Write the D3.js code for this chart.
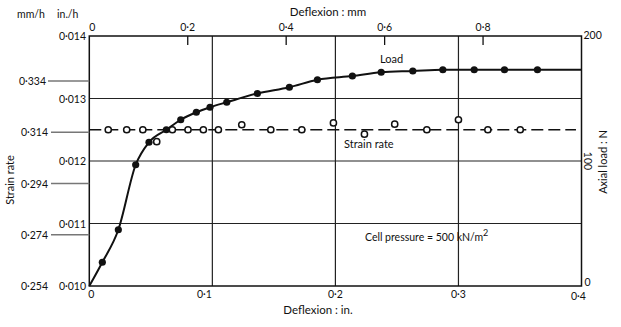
<!DOCTYPE html>
<html><head><meta charset="utf-8">
<script src="https://cdn.jsdelivr.net/npm/d3@7"></script>
<style>
body{margin:0;background:#fff;}
svg text{font-family:Lato,"Open Sans",sans-serif;fill:#111;}
</style></head>
<body><svg id="c" width="621" height="327"></svg>
<script>
// ---- data ----
const loadX = [0.0106,0.0236,0.0377,0.0485,0.0626,0.0743,0.0870,0.0981,0.1117,0.1366,0.1626,0.1854,0.2138,0.2372,0.2629,0.2873,0.3128,0.3374,0.3642];
const loadN = [19,45,97,115,125,133,139,143,147,154,159,165,168,171,172,173,173,173,173];
const curveStart = [0, 0];
const curveEnd = [0.4, 173];
const strainX = [0.0154,0.0304,0.0435,0.0548,0.0675,0.0802,0.0927,0.1049,0.1239,0.1475,0.1727,0.1984,0.2236,0.2482,0.2743,0.3000,0.3239,0.3502];
const strainR = [0.0125,0.0125,0.0125,0.01231,0.0125,0.0125,0.0125,0.0125,0.01258,0.0125,0.0125,0.01261,0.01243,0.01259,0.0125,0.01266,0.0125,0.0125];
const strainMean = 0.0125;
const strainMeanEnd = 0.3955;
const xTicksIn = [0,0.1,0.2,0.3,0.4];
const xTicksMm = [0.2,0.4,0.6,0.8];
const yTicksIn = [0.010,0.011,0.012,0.013,0.014];
const yTicksMm = [0.254,0.274,0.294,0.314,0.334];
const loadTicks = [0,100,200];

// ---- scales ----
const L=89.3, R=581.5, T=36, B=286;
const x = d3.scaleLinear([0,0.4],[L,R]);
const xmm = d3.scaleLinear([0,1.0],[L,R]);
const yIn = d3.scaleLinear([0.010,0.014],[B,T]);
const yMm = d3.scaleLinear([0.254,0.334],[B,81]);
const yLoad = d3.scaleLinear([0,200],[B,T]);
const dot = s => s.replace('.', '·');
const fIn = d => dot(d3.format('.3f')(d));
const fX = d => d===0 ? '0' : dot(d3.format('.1f')(d));

const svg = d3.select('#c');
const fs = 10.5;

// grid lines
svg.append('g').selectAll('line').data(yTicksIn.slice(1,4)).join('line')
  .attr('x1',L).attr('x2',R).attr('y1',d=>yIn(d)).attr('y2',d=>yIn(d))
  .attr('stroke','#222').attr('stroke-width',1.1);
svg.append('g').selectAll('line').data(xTicksIn.slice(1,4)).join('line')
  .attr('x1',d=>x(d)).attr('x2',d=>x(d)).attr('y1',T).attr('y2',B)
  .attr('stroke','#222').attr('stroke-width',1.2);

// frame
svg.append('rect').attr('x',L).attr('y',T).attr('width',R-L).attr('height',B-T)
  .attr('fill','none').attr('stroke','#111').attr('stroke-width',1.5);

// top mm ticks (inward)
svg.append('g').selectAll('line').data(xTicksMm).join('line')
  .attr('x1',d=>xmm(d)).attr('x2',d=>xmm(d)).attr('y1',T).attr('y2',T+9)
  .attr('stroke','#111').attr('stroke-width',1.3);
svg.append('g').selectAll('text').data([0].concat(xTicksMm)).join('text')
  .attr('x',d=>d===0?xmm(d)+3:xmm(d)).attr('y',31).attr('text-anchor','middle')
  .attr('font-size',fs).text(fX);
svg.append('text').attr('x',328).attr('y',16).attr('text-anchor','middle')
  .attr('font-size',11.5).text('Deflexion : mm');

// bottom x labels
svg.append('g').selectAll('text').data(xTicksIn).join('text')
  .attr('x',d=>d===0?x(d)+2:(d===0.1?x(d)-8:(d===0.4?x(d)-3:x(d))))
  .attr('y',d=>d===0.4?300:298).attr('text-anchor','middle')
  .attr('font-size',fs).text(fX);
svg.append('text').attr('x',318).attr('y',314).attr('text-anchor','middle')
  .attr('font-size',11.5).text('Deflexion : in.');

// left in./h labels
svg.append('g').selectAll('text').data(yTicksIn).join('text')
  .attr('x',86).attr('y',d=>yIn(d)+4).attr('text-anchor','end')
  .attr('font-size',fs).text(fIn);
// left mm/h labels with leader lines
svg.append('g').selectAll('line').data(yTicksMm.slice(1)).join('line')
  .attr('x1',d=>d===0.334?48:51).attr('x2',L).attr('y1',d=>yMm(d)).attr('y2',d=>yMm(d))
  .attr('stroke','#777').attr('stroke-width',1.5);
svg.append('g').selectAll('text').data(yTicksMm).join('text')
  .attr('x',d=>d===0.334?46:48).attr('y',d=>yMm(d)+4).attr('text-anchor','end')
  .attr('font-size',fs).text(fIn);
svg.append('text').attr('x',17).attr('y',18).attr('font-size',fs).text('mm/h');
svg.append('text').attr('x',57).attr('y',18).attr('font-size',fs).text('in./h');
svg.append('text').attr('transform','translate(14,180) rotate(-90)')
  .attr('text-anchor','middle').attr('font-size',11).text('Strain rate');

// right load axis labels
svg.append('text').attr('x',R+2).attr('y',yLoad(200)+3).attr('font-size',fs).text('200');
svg.append('text').attr('transform',`translate(${R+2},${yLoad(100)}) rotate(90)`)
  .attr('text-anchor','middle').attr('font-size',fs).text('100');
svg.append('text').attr('x',R+3).attr('y',yLoad(0)).attr('font-size',fs).text('0');
svg.append('text').attr('transform','translate(607,162) rotate(-90)')
  .attr('text-anchor','middle').attr('font-size',11).text('Axial load : N');

// strain rate mean dashed line
svg.append('line').attr('x1',x(0)).attr('x2',x(strainMeanEnd))
  .attr('y1',yIn(strainMean)).attr('y2',yIn(strainMean))
  .attr('stroke','#111').attr('stroke-width',1.6).attr('stroke-dasharray','12,5');

// load curve
const loadPts = [curveStart].concat(loadX.map((v,i)=>[v,loadN[i]])).concat([curveEnd]);
svg.append('path').datum(loadPts)
  .attr('d',d3.line().x(d=>x(d[0])).y(d=>yLoad(d[1])).curve(d3.curveMonotoneX))
  .attr('fill','none').attr('stroke','#111').attr('stroke-width',2);
svg.append('g').selectAll('circle').data(loadX).join('circle')
  .attr('cx',d=>x(d)).attr('cy',(d,i)=>yLoad(loadN[i])).attr('r',3.6).attr('fill','#111');

// strain points
svg.append('g').selectAll('circle').data(strainX).join('circle')
  .attr('cx',d=>x(d)).attr('cy',(d,i)=>yIn(strainR[i])).attr('r',3.1)
  .attr('fill','#fff').attr('stroke','#111').attr('stroke-width',1.5);

// annotations
svg.append('text').attr('x',380).attr('y',63).attr('font-size',11).text('Load');
svg.append('text').attr('x',344).attr('y',148).attr('font-size',11).text('Strain rate');
const cp = svg.append('text').attr('x',365).attr('y',241).attr('font-size',10.5);
cp.append('tspan').text('Cell pressure  = 500 kN/m');
cp.append('tspan').attr('dy',-5).attr('font-size',9).text('2');
</script></body></html>
